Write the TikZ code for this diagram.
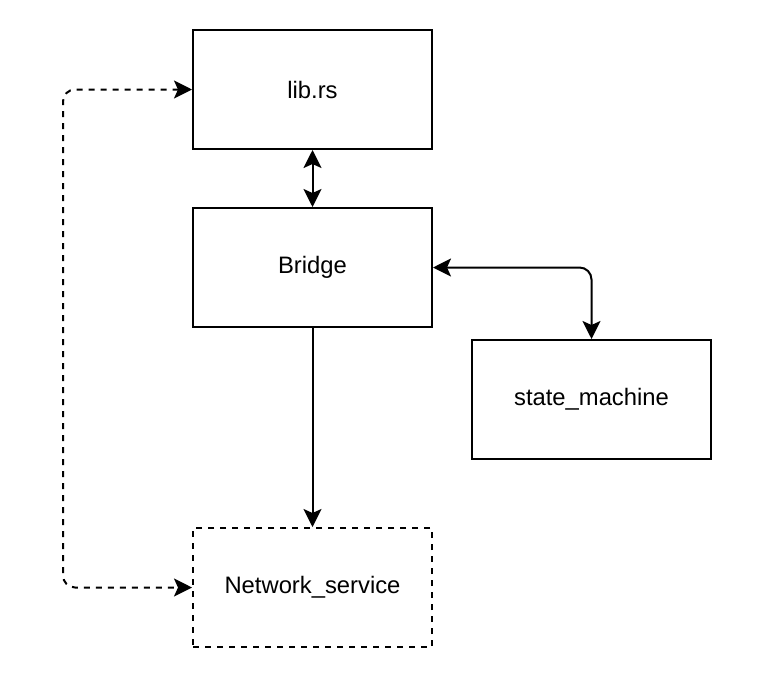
\documentclass[tikz,border=0pt]{standalone}
\usepackage{fontspec}
\setmainfont{Liberation Sans}
\usetikzlibrary{arrows.meta}
\begin{document}
\begin{tikzpicture}[x=1pt,y=-1pt,
  >={Stealth[length=18pt,width=18pt,inset=4pt]},
  box/.style={draw=black, line width=2pt, minimum width=239pt, minimum height=119pt, inner sep=0pt, font=\fontsize{23.8}{28}\selectfont, anchor=north west},
  dbox/.style={box, dash pattern=on 6pt off 6pt},
  conn/.style={line width=2pt, ->},
  bconn/.style={line width=2pt, <->},
]
\useasboundingbox (0,0) rectangle (768,694);
\node[box] (lib) at (192,29) {lib.rs};
\node[box] (bridge) at (192,207) {Bridge};
\node[box] (sm) at (471,339) {state\_machine};
\node[dbox] (net) at (192,527) {Network\_service};
\coordinate (dl) at (63,0);
\draw[bconn] (lib.south) -- (bridge.north);
\draw[bconn, rounded corners=12pt] (bridge.east) -| (sm.north);
\draw[conn] (bridge.south) -- (net.north);
\draw[bconn, dash pattern=on 6pt off 6pt, rounded corners=12pt] (lib.west) -- (lib.west -| dl) -- (net.west -| dl) -- (net.west);
\end{tikzpicture}
\end{document}
